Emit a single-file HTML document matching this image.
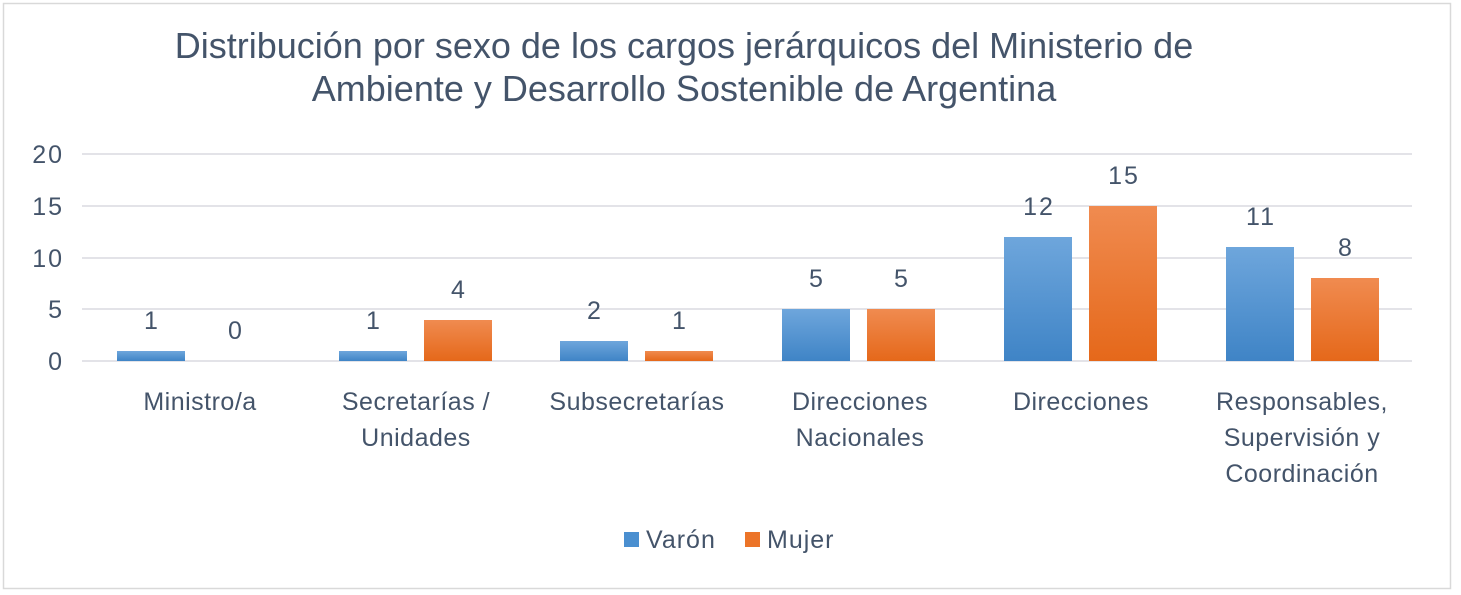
<!DOCTYPE html>
<html><head><meta charset="utf-8"><style>
html,body{margin:0;padding:0;background:#fff;}
svg{display:block;}
text{font-family:"Liberation Sans","DejaVu Sans",sans-serif;fill:#44546a;}
</style></head><body>
<svg width="1461" height="595" viewBox="0 0 1461 595" xmlns="http://www.w3.org/2000/svg">
<defs>
<linearGradient id="b" x1="0" y1="0" x2="0" y2="1"><stop offset="0" stop-color="#6ea6dc"/><stop offset="1" stop-color="#3f84c6"/></linearGradient>
<linearGradient id="o" x1="0" y1="0" x2="0" y2="1"><stop offset="0" stop-color="#f08b50"/><stop offset="1" stop-color="#e5681a"/></linearGradient>
</defs>
<rect x="3.5" y="3.5" width="1447" height="585" fill="#fff" stroke="#d9d9d9" stroke-width="1.5"/>
<text x="684" y="58" font-size="36" text-anchor="middle">Distribución por sexo de los cargos jerárquicos del Ministerio de</text>
<text x="684" y="101" font-size="36" text-anchor="middle">Ambiente y Desarrollo Sostenible de Argentina</text>
<g stroke="#e3e3e8" stroke-width="2">
<line x1="82" x2="1412" y1="154" y2="154"/><line x1="82" x2="1412" y1="206" y2="206"/><line x1="82" x2="1412" y1="258" y2="258"/><line x1="82" x2="1412" y1="309" y2="309"/><line x1="82" x2="1412" y1="361" y2="361"/>
</g>
<g font-size="25" text-anchor="end" letter-spacing="2">
<text x="64" y="163">20</text><text x="64" y="215">15</text><text x="64" y="267">10</text><text x="64" y="318">5</text><text x="64" y="370">0</text>
</g>
<g>
<rect x="117" y="351" width="68" height="10" fill="url(#b)"/>
<rect x="339" y="351" width="68" height="10" fill="url(#b)"/><rect x="424" y="320" width="68" height="41" fill="url(#o)"/>
<rect x="560" y="341" width="68" height="20" fill="url(#b)"/><rect x="645" y="351" width="68" height="10" fill="url(#o)"/>
<rect x="782" y="309" width="68" height="52" fill="url(#b)"/><rect x="867" y="309" width="68" height="52" fill="url(#o)"/>
<rect x="1004" y="237" width="68" height="124" fill="url(#b)"/><rect x="1089" y="206" width="68" height="155" fill="url(#o)"/>
<rect x="1226" y="247" width="68" height="114" fill="url(#b)"/><rect x="1311" y="278" width="68" height="83" fill="url(#o)"/>
</g>
<g font-size="25" text-anchor="middle" letter-spacing="2">
<text x="152" y="329">1</text><text x="236" y="339">0</text>
<text x="374" y="329">1</text><text x="459" y="298">4</text>
<text x="595" y="319">2</text><text x="680" y="329">1</text>
<text x="817" y="287">5</text><text x="902" y="287">5</text>
<text x="1039" y="215">12</text><text x="1124" y="184">15</text>
<text x="1261" y="225">11</text><text x="1346" y="256">8</text>
</g>
<g font-size="25" text-anchor="middle" letter-spacing="0.5">
<text x="200" y="410">Ministro/a</text>
<text x="416" y="410">Secretarías /</text><text x="416" y="446">Unidades</text>
<text x="637" y="410">Subsecretarías</text>
<text x="860" y="410">Direcciones</text><text x="860" y="446">Nacionales</text>
<text x="1081" y="410">Direcciones</text>
<text x="1302" y="410">Responsables,</text><text x="1302" y="446">Supervisión y</text><text x="1302" y="482">Coordinación</text>
</g>
<rect x="624" y="532" width="15" height="15" fill="#4a8fd0"/>
<text x="646" y="548" font-size="25" letter-spacing="1">Varón</text>
<rect x="745" y="532" width="15" height="15" fill="#ec7428"/>
<text x="767" y="548" font-size="25" letter-spacing="1">Mujer</text>
</svg>
</body></html>
